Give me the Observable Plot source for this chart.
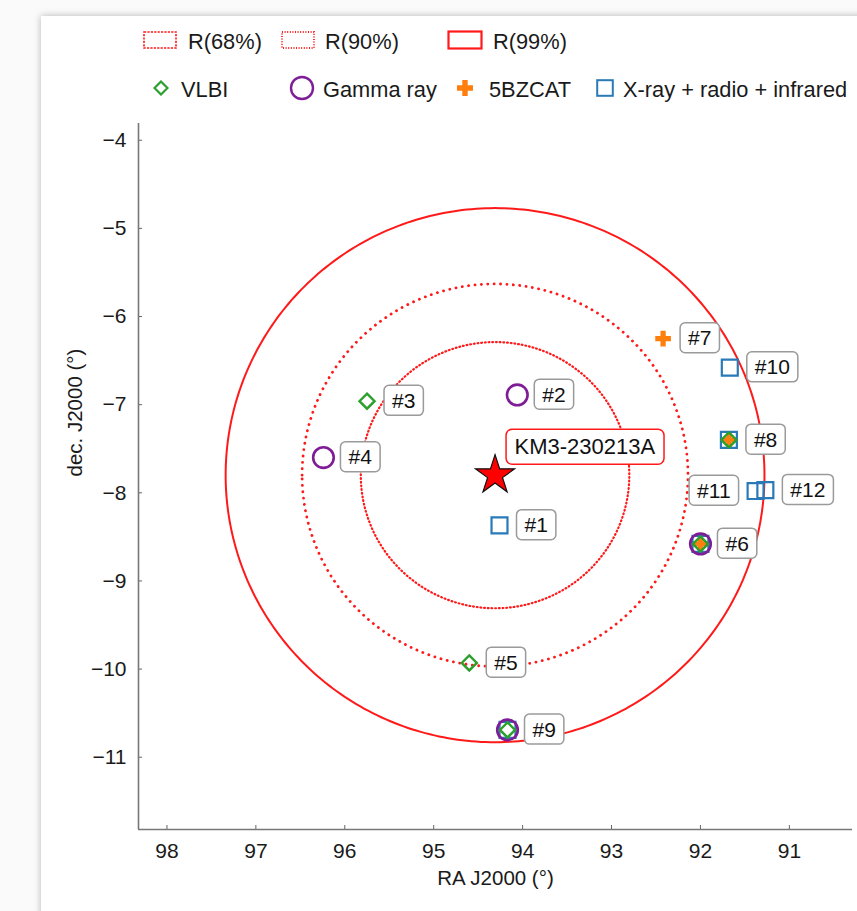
<!DOCTYPE html>
<html><head><meta charset="utf-8">
<script src="https://cdn.jsdelivr.net/npm/d3@7"></script>
<script src="https://cdn.jsdelivr.net/npm/@observablehq/plot@0.6"></script>
<style>
body{margin:0;background:#fafafa;font-family:"Liberation Sans",Arial,sans-serif;}
#wrap{position:relative;width:857px;height:911px;overflow:hidden;}
#panel{position:absolute;left:41px;top:16px;width:900px;height:1000px;background:#fff;box-shadow:0 0 7px rgba(0,0,0,0.28);}
#chart{position:absolute;left:0;top:0;}
.leg{position:absolute;font-size:21.8px;color:#1a1a1a;line-height:1;transform:translateY(-50%);white-space:nowrap;}
.ico{position:absolute;transform:translateY(-50%);}
</style></head>
<body><div id="wrap"><div id="panel"></div><div id="legend"></div><div id="chart"></div></div>
<script>
// ---- data ----
const sourceIds  = ["#1","#2","#3","#4","#5","#6","#7","#8","#9","#10","#11","#12"];
const sourceRA   = [94.26, 94.06, 95.75, 96.24, 94.60, 92.00, 92.42, 91.68, 94.17, 91.67, 91.38, 91.27];
const sourceDec  = [-8.37, -6.89, -6.96, -7.60, -9.93, -8.58, -6.25, -7.40, -10.69, -6.58, -7.98, -7.97];
const vlbiIds    = ["#3","#5","#6","#8","#9"];
const gammaIds   = ["#2","#4","#6","#9"];
const bzcatIds   = ["#6","#7","#8"];
const xrrIds     = ["#1","#6","#8","#9","#10","#11","#12"];
const leftLabelIds = ["#11"];
const eventName = "KM3-230213A";
const eventRA = 94.31;
const eventDec = -7.80;
const regionNames = ["R(68%)","R(90%)","R(99%)"];
const regionRadii = [1.51, 2.17, 3.03];
const xTicks = [98, 97, 96, 95, 94, 93, 92, 91];
const yTicks = [-4, -5, -6, -7, -8, -9, -10, -11];
const catalogNames = ["VLBI","Gamma ray","5BZCAT","X-ray + radio + infrared"];

// ---- derived tables ----
const sources = sourceIds.map((id, i) => ({id, ra: sourceRA[i], dec: sourceDec[i]}));
const pick = ids => sources.filter(s => ids.includes(s.id));
const event = [{name: eventName, ra: eventRA, dec: eventDec}];
const rings = regionNames.map((name, k) => d3.range(0, 361, 1).map(a => ({
  name,
  ra: eventRA + regionRadii[k] * Math.cos(a * Math.PI / 180),
  dec: eventDec + regionRadii[k] * Math.sin(a * Math.PI / 180)
})));

const xDomain = [98.32, 90.29];
const yDomain = [-11.82, -3.81];
const RED = "#ff1a1a", GREEN = "#2ca02c", PURPLE = "#7f1d96", ORANGE = "#ff7f0e", BLUE = "#2a7ab8";
const ringStyles = [
  {strokeDasharray: "0.8,2.9", strokeWidth: 2.2, strokeLinecap: "round"},
  {strokeDasharray: "0.1,6.3", strokeWidth: 2.8, strokeLinecap: "round"},
  {strokeWidth: 2}
];

const plot = Plot.plot({
  width: 857, height: 911,
  marginLeft: 138, marginRight: 5, marginTop: 123, marginBottom: 82,
  x: {domain: xDomain},
  y: {domain: yDomain},
  style: {fontFamily: "'Liberation Sans', Arial, sans-serif", fontSize: "20px", color: "#1a1a1a", background: "transparent", overflow: "visible"},
  marks: [
    Plot.axisX({ticks: xTicks, tickSize: 4, dy: -4, tickPadding: 14, label: null, fontSize: 21, stroke: "#666"}),
    Plot.axisY({ticks: yTicks, tickSize: 4, dx: 4, tickPadding: 12, label: null, fontSize: 21, stroke: "#666"}),
    Plot.ruleX([xDomain[0]], {stroke: "#777", strokeWidth: 1.6}),
    Plot.ruleY([yDomain[0]], {stroke: "#777", strokeWidth: 1.6}),
    Plot.text(["RA J2000 (°)"], {frameAnchor: "bottom", dy: 55, fontSize: 20.5, fill: "#1a1a1a"}),
    Plot.text(["dec. J2000 (°)"], {frameAnchor: "left", dx: -63, rotate: -90, fontSize: 20.5, fill: "#1a1a1a"}),
    ...rings.map((pts, k) => Plot.line(pts, {x: "ra", y: "dec", stroke: RED, ...ringStyles[k]})),
    Plot.dot(pick(bzcatIds), {x: "ra", y: "dec", symbol: "cross", r: 6.6, fill: ORANGE, stroke: "none"}),
    Plot.dot(pick(xrrIds), {x: "ra", y: "dec", symbol: "square", r: 9, fill: "none", stroke: BLUE, strokeWidth: 2.2}),
    Plot.dot(pick(vlbiIds), {x: "ra", y: "dec", symbol: "diamond2", r: 6.8, fill: "none", stroke: GREEN, strokeWidth: 2.4}),
    Plot.dot(pick(gammaIds), {x: "ra", y: "dec", symbol: "circle", r: 10.3, fill: "none", stroke: PURPLE, strokeWidth: 2.6}),
    Plot.dot(event, {x: "ra", y: "dec", symbol: "star", r: 12.3, fill: "#ff0000", stroke: "#111", strokeWidth: 1.2}),
    Plot.text(sources.filter(s => !leftLabelIds.includes(s.id)), {x: "ra", y: "dec", text: "id", dx: 25, textAnchor: "start", fontSize: 21, fill: "#111", ariaDescription: "srclabel"}),
    Plot.text(pick(leftLabelIds), {x: "ra", y: "dec", text: "id", dx: -25, textAnchor: "end", fontSize: 21, fill: "#111", ariaDescription: "srclabel"}),
    Plot.text(event, {x: "ra", y: "dec", text: "name", dx: 19.5, dy: -28, textAnchor: "start", fontSize: 22, fill: "#111", ariaDescription: "eventlabel"})
  ]
});
document.getElementById("chart").appendChild(plot);

// label boxes behind text
function boxes(label, padX, h, stroke, rx) {
  const groups = Array.from(plot.querySelectorAll("g")).filter(g => g.getAttribute("aria-description") === label);
  groups.forEach(g => g.querySelectorAll("text").forEach(t => {
    const b = t.getBBox();
    const r = document.createElementNS("http://www.w3.org/2000/svg", "rect");
    r.setAttribute("x", b.x - padX);
    r.setAttribute("y", b.y + b.height / 2 - h / 2);
    r.setAttribute("width", b.width + 2 * padX);
    r.setAttribute("height", h);
    r.setAttribute("rx", rx);
    r.setAttribute("fill", "white");
    r.setAttribute("stroke", stroke);
    r.setAttribute("stroke-width", 1.5);
    if (t.getAttribute("transform")) r.setAttribute("transform", t.getAttribute("transform"));
    t.parentNode.insertBefore(r, t);
  }));
}
boxes("srclabel", 8, 30, "#9a9a9a", 5);
boxes("eventlabel", 8.5, 35, RED, 6);

// ---- legend (HTML) ----
const L = document.getElementById("legend");
function icon(x, y, w, h, inner) {
  const d = document.createElement("div");
  d.className = "ico";
  d.style.left = x + "px"; d.style.top = y + "px";
  d.innerHTML = `<svg width="${w}" height="${h}" viewBox="0 0 ${w} ${h}">${inner}</svg>`;
  L.appendChild(d);
}
function label(x, y, text) {
  const d = document.createElement("div");
  d.className = "leg";
  d.style.left = x + "px"; d.style.top = y + "px";
  d.textContent = text;
  L.appendChild(d);
}
const r1 = 42, r2 = 90;
icon(143, r1, 34, 18, `<rect x="1" y="1" width="32" height="16" fill="none" stroke="${RED}" stroke-width="1.6" stroke-dasharray="2.2,1.2"/>`);
label(188, r1, regionNames[0]);
icon(281, r1, 34, 18, `<rect x="1" y="1" width="32" height="16" fill="none" stroke="${RED}" stroke-width="1.8" stroke-dasharray="1,1.6"/>`);
label(325, r1, regionNames[1]);
icon(447, r1, 36, 20, `<rect x="1.5" y="1.5" width="33" height="17" fill="none" stroke="${RED}" stroke-width="2.2"/>`);
label(493, r1, regionNames[2]);

icon(153, r2, 16, 16, `<path d="M8,1.5 L14.5,8 L8,14.5 L1.5,8 Z" fill="none" stroke="${GREEN}" stroke-width="2.2"/>`);
label(181, r2, catalogNames[0]);
icon(289, r2, 26, 26, `<circle cx="13" cy="13" r="11" fill="none" stroke="${PURPLE}" stroke-width="2.4"/>`);
label(323, r2, catalogNames[1]);
icon(457, r2, 16, 16, `<path d="M5.3,0 H10.7 V5.3 H16 V10.7 H10.7 V16 H5.3 V10.7 H0 V5.3 H5.3 Z" fill="${ORANGE}"/>`);
label(489, r2, catalogNames[2]);
icon(596, r2, 18, 18, `<rect x="1.2" y="1.2" width="15.6" height="15.6" fill="none" stroke="${BLUE}" stroke-width="2"/>`);
label(623, r2, catalogNames[3]);
</script>
</body></html>
